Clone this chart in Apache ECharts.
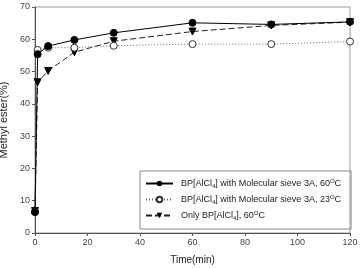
<!DOCTYPE html>
<html>
<head>
<meta charset="utf-8">
<script src="https://cdn.jsdelivr.net/npm/echarts@6/dist/echarts.min.js"></script>
<style>
  html, body { margin: 0; padding: 0; background: #fff; }
  #chart { width: 360px; height: 268px; }
</style>
</head>
<body>
<div id="chart"></div>
<script>
// 时间点 (min)
var times = [0, 1, 5, 15, 30, 60, 90, 120];
// 三组数据，读图估计
var sieve60 = [6.5, 55.4, 57.9, 59.8, 62.0, 65.1, 64.6, 65.4];
var sieve23 = [6.5, 56.7, 57.4, 57.4, 58.0, 58.5, 58.5, 59.3];
var only60 = [6.8, 46.7, 50.2, 56.0, 59.4, 62.4, 64.3, 65.3];
var seriesNames = ['s60', 's23', 'only60'];
var legendLabels = {
    s60: 'BP[AlCl{sub|4}] with Molecular sieve 3A, 60{sup|O}C',
    s23: 'BP[AlCl{sub|4}] with Molecular sieve 3A, 23{sup|O}C',
    only60: 'Only BP[AlCl{sub|4}], 60{sup|O}C'
};

function pairs(arr) {
    return times.map(function (t, i) { return [t, arr[i]]; });
}

var myChart = echarts.init(document.getElementById('chart'));
var axisColor = '#555';
var option = {
    animation: false,
    grid: {
        left: 35,
        right: 10,
        top: 7,
        bottom: 35,
        outerBoundsMode: 'none',
        containLabel: false,
        show: true,
        borderColor: '#999',
        borderWidth: 1
    },
    xAxis: {
        type: 'value',
        min: 0,
        max: 120,
        interval: 20,
        name: 'Time(min)',
        nameLocation: 'middle',
        nameGap: 22,
        nameTextStyle: { fontSize: 10, color: '#222', fontFamily: 'Liberation Sans' },
        axisLine: { show: true, lineStyle: { color: axisColor } },
        axisTick: { show: true, length: 3, inside: false, lineStyle: { color: axisColor } },
        axisLabel: { fontSize: 9, color: '#444', margin: 5, fontFamily: 'Liberation Sans' },
        splitLine: { show: false }
    },
    yAxis: {
        type: 'value',
        min: 0,
        max: 70,
        interval: 10,
        name: 'Methyl ester(%)',
        nameLocation: 'middle',
        nameGap: 24,
        nameTextStyle: { fontSize: 11, color: '#222', fontFamily: 'Liberation Sans' },
        axisLine: { show: true, lineStyle: { color: axisColor } },
        axisTick: { show: true, length: 3, lineStyle: { color: axisColor } },
        axisLabel: { fontSize: 9, color: '#444', margin: 5, fontFamily: 'Liberation Sans' },
        splitLine: { show: false }
    },
    legend: {
        orient: 'vertical',
        left: 140,
        top: 171,
        width: 208,
        padding: [7, 10, 8, 5],
        itemGap: 5,
        itemWidth: 27,
        itemHeight: 7,
        borderColor: '#888',
        borderWidth: 1,
        data: seriesNames,
        formatter: function (name) { return legendLabels[name]; },
        textStyle: {
            fontSize: 9,
            color: '#222',
            padding: [0, 0, 0, 3],
            fontFamily: 'Liberation Sans',
            rich: {
                sub: { fontSize: 6, padding: [5, 0, 0, 0], color: '#222' },
                sup: { fontSize: 6, padding: [0, 0, 5, 0], color: '#222' }
            }
        }
    },
    series: [
        {
            name: 's60',
            type: 'line',
            data: pairs(sieve60),
            symbol: 'circle',
            symbolSize: 7,
            lineStyle: { color: '#000', width: 1 },
            itemStyle: { color: '#000', borderColor: '#000' },
            z: 4
        },
        {
            name: 's23',
            type: 'line',
            data: pairs(sieve23),
            symbol: 'circle',
            symbolSize: 7,
            lineStyle: { color: '#666', width: 1, type: [1, 2] },
            itemStyle: { color: '#fff', borderColor: '#333', borderWidth: 1 },
            z: 3
        },
        {
            name: 'only60',
            type: 'line',
            data: pairs(only60),
            symbol: 'triangle',
            symbolRotate: 180,
            symbolSize: 7,
            lineStyle: { color: '#222', width: 1, type: [6, 3] },
            itemStyle: { color: '#000', borderColor: '#000' },
            z: 2
        }
    ]
};
myChart.setOption(option);
</script>
</body>
</html>
